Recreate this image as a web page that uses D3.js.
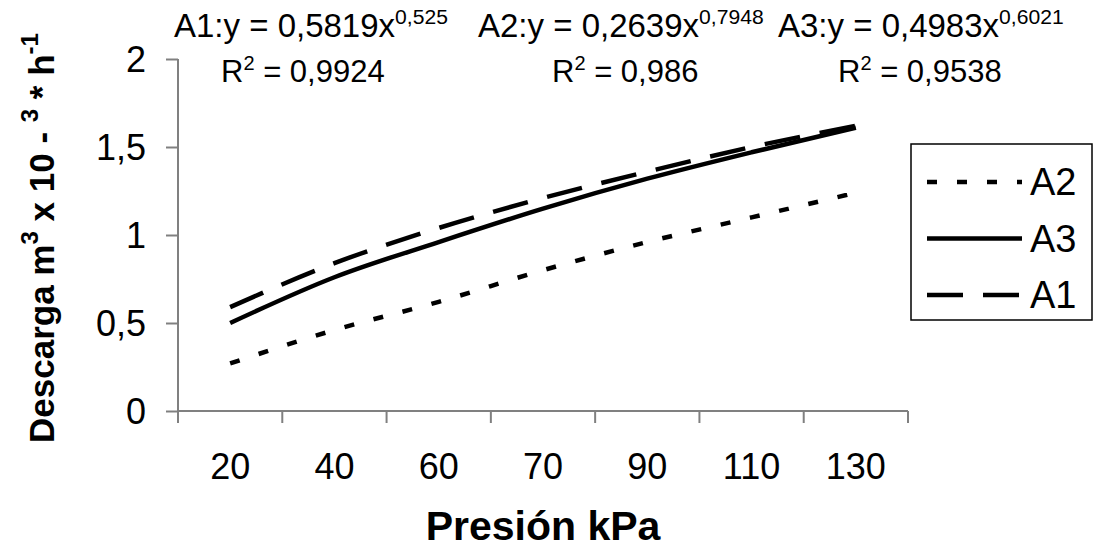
<!DOCTYPE html>
<html>
<head>
<meta charset="utf-8">
<script src="https://cdn.jsdelivr.net/npm/d3@7"></script>
<style>
  body { margin: 0; background: #fff; }
  text { font-family: "Liberation Sans", Arial, sans-serif; fill: #000; }
</style>
</head>
<body>
<svg id="chart" width="1099" height="548"></svg>
<script>
// data
var categories = ["20", "40", "60", "70", "90", "110", "130"];
var a1 = [0.59, 0.84, 1.04, 1.21, 1.36, 1.50, 1.62];
var a2 = [0.27, 0.46, 0.62, 0.80, 0.96, 1.10, 1.24];
var a3 = [0.50, 0.76, 0.96, 1.15, 1.32, 1.47, 1.61];
var yTicks = [0, 0.5, 1, 1.5, 2];

var series = [
  {name: "A2", values: a2, dash: "10,20"},
  {name: "A3", values: a3, dash: null},
  {name: "A1", values: a1, dash: "36,20"}
];

var svg = d3.select("#chart");
var mLeft = 178, mRight = 908, mTop = 59, mBottom = 411;

var x = d3.scaleBand().domain(categories).range([mLeft, mRight]);
var y = d3.scaleLinear().domain([0, 2]).range([mBottom, mTop]);

// y axis
var yAxis = svg.append("g")
  .attr("transform", "translate(" + mLeft + ",0)")
  .call(d3.axisLeft(y).tickValues(yTicks).tickSize(12).tickPadding(20)
    .tickFormat(function(d) { return String(d).replace(".", ","); }));
yAxis.select(".domain").attr("stroke", "#808080").attr("stroke-width", 2)
  .attr("d", "M0," + mTop + "V" + mBottom);
yAxis.selectAll(".tick line").attr("stroke", "#808080").attr("stroke-width", 2);
yAxis.selectAll(".tick text").attr("font-size", 36)
  .attr("font-family", "Liberation Sans, Arial, sans-serif").attr("dy", "0.36em");

// x axis: labels centered in bands, ticks on band edges
var xAxis = svg.append("g")
  .attr("transform", "translate(0," + mBottom + ")")
  .call(d3.axisBottom(x).tickSize(0).tickPadding(42));
xAxis.select(".domain").attr("stroke", "#808080").attr("stroke-width", 2)
  .attr("d", "M" + mLeft + ",0H" + mRight);
xAxis.selectAll(".tick text").attr("font-size", 36)
  .attr("font-family", "Liberation Sans, Arial, sans-serif");

var edges = categories.map(function(c) { return x(c); }).concat([mRight]);
svg.append("g").selectAll("line")
  .data(edges)
  .enter()
  .append("line")
  .attr("x1", function(d) { return d; })
  .attr("x2", function(d) { return d; })
  .attr("y1", mBottom)
  .attr("y2", mBottom + 12)
  .attr("stroke", "#808080")
  .attr("stroke-width", 2);

// lines
var line = d3.line()
  .x(function(d, i) { return x(categories[i]) + x.bandwidth() / 2; })
  .y(function(d) { return y(d); })
  .curve(d3.curveMonotoneX);

svg.append("g").selectAll("path")
  .data(series)
  .enter()
  .append("path")
  .attr("d", function(d) { return line(d.values); })
  .attr("fill", "none")
  .attr("stroke", "#000")
  .attr("stroke-width", 4.5)
  .attr("stroke-dasharray", function(d) { return d.dash; });

// trendline labels
function supText(xp, yp, base, sup, size) {
  var t = svg.append("text").attr("x", xp).attr("y", yp).attr("font-size", size);
  t.append("tspan").text(base);
  t.append("tspan").attr("dy", -13).attr("font-size", size * 0.64).text(sup);
  return t;
}
supText(174, 37, "A1:y = 0,5819x", "0,525", 33);
supText(478, 37, "A2:y = 0,2639x", "0,7948", 33);
supText(778, 37, "A3:y = 0,4983x", "0,6021", 33);

function rText(xp, yp, val) {
  var t = svg.append("text").attr("x", xp).attr("y", yp).attr("font-size", 31);
  t.append("tspan").text("R");
  t.append("tspan").attr("dy", -12).attr("font-size", 20).text("2");
  t.append("tspan").attr("dy", 12).text(" = " + val);
}
rText(221, 82, "0,9924");
rText(552, 82, "0,986");
rText(838, 82, "0,9538");

// legend
var lg = svg.append("g");
lg.append("rect").attr("x", 911).attr("y", 144).attr("width", 181).attr("height", 176)
  .attr("fill", "#fff").attr("stroke", "#000").attr("stroke-width", 1.5);
var ly = d3.scalePoint().domain(series.map(function(d) { return d.name; }))
  .range([182, 295]);
var item = lg.selectAll(".item").data(series).enter().append("g");
item.append("line")
  .attr("x1", 927).attr("x2", 1022)
  .attr("y1", function(d) { return ly(d.name); })
  .attr("y2", function(d) { return ly(d.name); })
  .attr("stroke", "#000").attr("stroke-width", 4.5)
  .attr("stroke-dasharray", function(d) { return d.dash; });
item.append("text")
  .attr("x", 1030)
  .attr("y", function(d) { return ly(d.name) + 13; })
  .attr("font-size", 38)
  .text(function(d) { return d.name; });

// axis titles
svg.append("text").attr("x", (mLeft + mRight) / 2).attr("y", 540)
  .attr("text-anchor", "middle").attr("font-size", 41).attr("font-weight", "bold")
  .text("Presión kPa");

var yt = svg.append("text")
  .attr("transform", "translate(54,443) rotate(-90)")
  .attr("font-size", 35).attr("font-weight", "bold");
yt.append("tspan").text("Descarga m");
yt.append("tspan").attr("dy", -16).attr("font-size", 24).text("3");
yt.append("tspan").attr("dy", 16).text(" x 10 - ");
yt.append("tspan").attr("dy", -16).attr("font-size", 24).text("3");
yt.append("tspan").attr("dy", 16).text(" * h");
yt.append("tspan").attr("dy", -16).attr("font-size", 24).text("-1");
</script>
</body>
</html>
